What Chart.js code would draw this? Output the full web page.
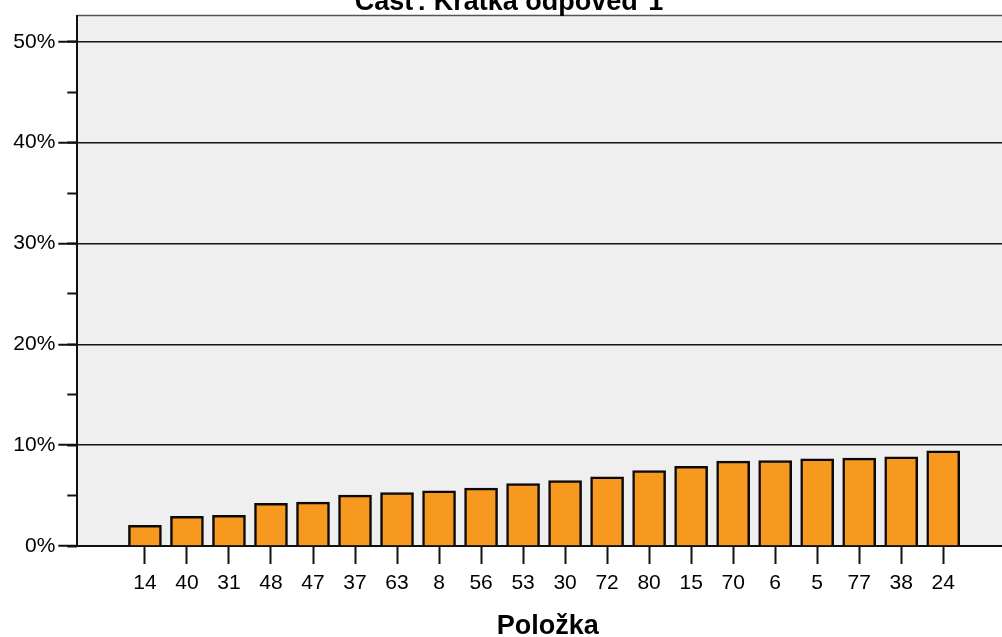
<!DOCTYPE html>
<html>
<head>
<meta charset="utf-8">
<script src="https://cdn.jsdelivr.net/npm/chart.js@4"></script>
<style>
    html, body { margin: 0; padding: 0; background: #ffffff; overflow: hidden; }
    #clip { width: 1002px; height: 637px; overflow: hidden; }
    #wrap { width: 1018px; height: 637px; }
</style>
</head>
<body>
<div id="clip"><div id="wrap"><canvas id="myChart"></canvas></div></div>
<script>
const titleText = 'Časť: Krátka odpoveď 1';
const axisTitle = 'Položka';
const items = ['14', '40', '31', '48', '47', '37', '63', '8', '56', '53', '30', '72', '80', '15', '70', '6', '5', '77', '38', '24'];
const percents = [2.04, 2.93, 3.03, 4.22, 4.35, 5.05, 5.30, 5.47, 5.74, 6.19, 6.49, 6.86, 7.48, 7.90, 8.41, 8.47, 8.64, 8.71, 8.84, 9.43];
const yTicks = [0, 10, 20, 30, 40, 50];

let chart;

document.addEventListener('DOMContentLoaded', function() {
    generateBarGraph();
});

// grey plot background + top frame line
const plotBackground = {
    id: 'plotBackground',
    beforeDraw(chart) {
        const { ctx, chartArea: { top, bottom, left, right } } = chart;
        ctx.save();
        ctx.fillStyle = '#efefef';
        ctx.fillRect(left, top, right - left, bottom - top);
        ctx.strokeStyle = '#555555';
        ctx.lineWidth = 1.5;
        ctx.beginPath();
        ctx.moveTo(left, top);
        ctx.lineTo(right, top);
        ctx.stroke();
        ctx.restore();
    }
};

function generateBarGraph() {
    let ctx = document.getElementById('myChart').getContext('2d');

    if (chart) {
        chart.destroy();
    }

    chart = new Chart(ctx, {
        type: 'bar',
        data: {
            datasets: [{
                data: percents.map((v, i) => ({ x: i, y: v })),
                backgroundColor: '#f8991f',
                borderColor: '#0a0a0a',
                borderWidth: 2.5,
                barThickness: 33
            }]
        },
        plugins: [plotBackground],
        options: {
            responsive: true,
            maintainAspectRatio: false,
            animation: false,
            layout: {
                padding: { left: 0, right: 0, top: 0, bottom: 0 }
            },
            plugins: {
                legend: {
                    display: false
                },
                tooltip: {
                    enabled: false
                },
                title: {
                    display: true,
                    text: titleText,
                    color: '#000000',
                    font: { family: 'Liberation Sans, Arial, sans-serif', size: 27, weight: 'bold' },
                    padding: { top: -15.2, bottom: -2.7 }
                }
            },
            scales: {
                x: {
                    type: 'linear',
                    position: 'bottom',
                    offset: false,
                    min: -1.61,
                    max: 20.78,
                    afterBuildTicks: function(scale) {
                        scale.ticks = items.map((c, i) => ({ value: i }));
                    },
                    afterFit: function(scale) {
                        scale.height = 91;
                    },
                    ticks: {
                        stepSize: 1,
                        autoSkip: false,
                        maxRotation: 0,
                        padding: 7,
                        color: '#000000',
                        font: { family: 'Liberation Sans, Arial, sans-serif', size: 21 },
                        callback: function(value) {
                            return items[value];
                        }
                    },
                    grid: {
                        offset: false,
                        drawOnChartArea: false,
                        drawTicks: true,
                        tickLength: 18,
                        tickWidth: 2,
                        tickColor: '#111111'
                    },
                    border: {
                        display: true,
                        color: '#111111',
                        width: 2
                    },
                    title: {
                        display: true,
                        text: axisTitle,
                        color: '#000000',
                        font: { family: 'Liberation Sans, Arial, sans-serif', size: 27, weight: 'bold' },
                        padding: { top: 0, bottom: -6 }
                    }
                },
                y: {
                    type: 'linear',
                    position: 'left',
                    weight: 1,
                    min: 0,
                    max: 52.6,
                    afterBuildTicks: function(scale) {
                        scale.ticks = yTicks.map(v => ({ value: v }));
                    },
                    afterFit: function(scale) {
                        scale.width = 77.3;
                    },
                    ticks: {
                        stepSize: 10,
                        includeBounds: false,
                        padding: 3,
                        color: '#000000',
                        font: { family: 'Liberation Sans, Arial, sans-serif', size: 21 },
                        callback: function(value) {
                            return value + '%';
                        }
                    },
                    grid: {
                        color: '#151515',
                        lineWidth: 1.5,
                        tickLength: 19,
                        tickWidth: 2,
                        tickColor: '#111111'
                    },
                    border: {
                        display: true,
                        color: '#111111',
                        width: 2
                    }
                },
                yMinor: {
                    type: 'linear',
                    position: 'left',
                    weight: 0,
                    min: 0,
                    max: 52.6,
                    afterFit: function(scale) {
                        scale.width = 0;
                    },
                    ticks: {
                        stepSize: 5,
                        includeBounds: false,
                        display: false
                    },
                    grid: {
                        drawOnChartArea: false,
                        tickLength: 10,
                        tickWidth: 2,
                        tickColor: '#111111'
                    },
                    border: {
                        display: false
                    }
                }
            }
        }
    });
}
</script>
</body>
</html>
